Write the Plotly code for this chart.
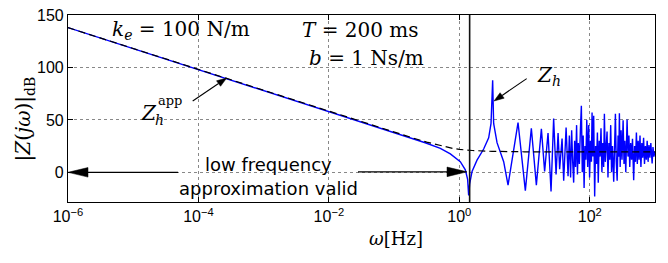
import math
import plotly.graph_objects as go

# ---------------- data ----------------
# |Z_h(j w)| in dB, frequency given as log10(omega [Hz])
zh_log_omega = [
    -6, -4, -2, -1, -0.699, -0.523, -0.291, -0.138, 0.015, 0.092, 0.127, 0.143,
    0.158, 0.195, 0.271, 0.373, 0.45, 0.486, 0.511, 0.526, 0.578, 0.68, 0.747,
    0.900, 1.012, 1.104, 1.181, 1.258, 1.308, 1.360, 1.406, 1.446, 1.483, 1.514,
    1.538, 1.575, 1.600, 1.637, 1.667,
    1.687, 1.706, 1.722, 1.738, 1.753, 1.768, 1.782, 1.798, 1.811, 1.825, 1.840,
    1.856, 1.871, 1.885, 1.899, 1.913, 1.926, 1.940, 1.954, 1.968, 1.983, 1.997,
    2.011, 2.025, 2.035, 2.048, 2.060, 2.075, 2.089, 2.103, 2.117, 2.130, 2.144,
    2.158, 2.172, 2.186, 2.199, 2.213, 2.224, 2.238, 2.252, 2.265, 2.279, 2.293,
    2.307, 2.321, 2.334, 2.348, 2.367, 2.380, 2.393, 2.406, 2.420, 2.434, 2.446,
    2.454, 2.466, 2.480, 2.494, 2.511, 2.525, 2.538, 2.552, 2.572, 2.586, 2.600,
    2.613, 2.627, 2.641, 2.655, 2.673, 2.687, 2.701, 2.715, 2.729, 2.742, 2.756,
    2.770, 2.784, 2.798, 2.811, 2.825, 2.839, 2.853, 2.867, 2.880, 2.894, 2.908,
    2.922, 2.936, 2.956, 2.969, 2.983, 3.0,
]
zh_db = [
    138, 98, 58, 38, 31.8, 28.2, 22.9, 17.6, 10.1, 2.4, -6.7, -22,
    -11.3, 0.9, 11.6, 22.2, 32.9, 46.6, 87.8, 46.6, 28.3, 10.1, -12.2,
    47.5, -17.4, 42, -12.2, 41.4, 0.9, 37.5, -18.3, 51.2, -2.1, 37.5,
    3, 32.3, -8, 42.7, -3.7,
    35, -5, 40, 10, -9.8, 30, 5, 45, -2, 28, 8,
    40, 63.4, 0, 35, -15, 25, 12, 50, 5, 45, -5,
    30, 10, 57, 15, 54, -23, 25, 8, 38, -10, 30,
    15, 42, 0, 28, 5, 55.8, 10, 35, 39, -5, 28,
    12, 45, 0, 25, -8.9, 30, 55.8, 10, -8, 35, 15,
    56.4, 5, 40, 12, 49.6, 8, 30, 0, 50.3, 15, 35,
    5, 28, 12, 32, -7.6, 25, 10, 38, 8, 30, 12,
    35, 5, 28, 14, 33, 8, 25, 12, 30, 10, 26,
    14, 28, 8.5, 24, 15, 20,
]

# low-frequency approximation Z_h^app in dB
app_log_omega = [-6, -2, -1, -0.7, -0.5, -0.3, -0.1, 0, 0.2, 0.5, 1, 3]
app_db = [138, 58, 38.2, 32.5, 28.8, 25.5, 22.8, 21.9, 20.8, 20.0, 19.6, 19.5]

# validity limit of the approximation (log10 omega)
valid_limit_log_omega = 0.158

x_tick_exps = [-6, -4, -2, 0, 2]
y_ticks = [0, 50, 100, 150]
x_range_exp = [-6, 3]
y_range = [-28.3, 150.05]

# ---------------- layout helpers ----------------
W, H = 668, 263
L, R, T, B = 68, 655, 7, 202


def px(x):
    return (x - L) / (R - L)


def py(y):
    return (B - y) / (B - T)


def dx(logw):
    return L + (logw - x_range_exp[0]) / (x_range_exp[1] - x_range_exp[0]) * (R - L)


def dy(v):
    return B - (v - y_range[0]) / (y_range[1] - y_range[0]) * (B - T)


omega = [10 ** v for v in zh_log_omega]
app_omega = [10 ** v for v in app_log_omega]
vl = 10 ** valid_limit_log_omega

fig = go.Figure()
fig.add_trace(go.Scatter(x=omega, y=zh_db, mode="lines",
                         line=dict(color="#0000ff", width=1.4), showlegend=False))
fig.add_trace(go.Scatter(x=app_omega, y=app_db, mode="lines",
                         line=dict(color="black", width=1.2, dash="7px,4px"),
                         showlegend=False))
fig.add_trace(go.Scatter(x=[vl, vl], y=y_range, mode="lines",
                         line=dict(color="#111111", width=1.6), showlegend=False))

shapes = []


def arrow(x0, y0, x1, y1, hl, hw, w=1.1):
    ddx, ddy = x1 - x0, y1 - y0
    d = math.hypot(ddx, ddy)
    ux, uy = ddx / d, ddy / d
    bx, by = x1 - ux * hl, y1 - uy * hl
    nx, ny = -uy, ux
    p1 = (bx + nx * hw, by + ny * hw)
    p2 = (bx - nx * hw, by - ny * hw)
    shapes.append(dict(type="line", xref="paper", yref="paper",
                       x0=px(x0), y0=py(y0), x1=px(bx), y1=py(by),
                       line=dict(color="black", width=w)))
    path = (f"M {px(x1)} {py(y1)} L {px(p1[0])} {py(p1[1])} "
            f"L {px(p2[0])} {py(p2[1])} Z")
    shapes.append(dict(type="path", path=path, xref="paper", yref="paper",
                       fillcolor="black", line=dict(color="black", width=0.5)))


# low frequency arrows
arrow(178, dy(0), dx(-6), dy(0), 20, 5)
arrow(358, dy(0) - 0.5, dx(0.118), dy(0) - 0.5, 20, 5)
# Z_h^app arrow
arrow(192.7, 96.7, 226.7, 72.7, 10, 3.5)
# Z_h arrow
arrow(526.7, 73.3, 494, 96.7, 10, 3.5)

serif = "DejaVu Serif"
sans = "DejaVu Sans"
tick_font = "Liberation Sans"

ann = []


def text(x, y, s, size=20, font=serif, xanchor="center", angle=0):
    ann.append(dict(x=px(x), y=py(y), xref="paper", yref="paper", text=s,
                    showarrow=False, xanchor=xanchor, yanchor="middle",
                    textangle=angle, font=dict(family=font, size=size, color="black")))


text(110, 23, "<i>k<sub>e</sub></i> = 100 N/m", size=20, xanchor="left")
text(300, 23, "<i>T</i> = 200 ms", size=20, xanchor="left")
text(307, 52, "<i>b</i> = 1 Ns/m", size=20, xanchor="left")

text(268, 163, "low frequency", size=18, font=sans)
text(268, 188, "approximation valid", size=18, font=sans)

text(148.5, 109, "<i>Z</i>", size=20)
text(170, 96, "app", size=13)
text(159, 116, "<i>h</i>", size=14)

text(549, 71, "<i>Z<sub>h</sub></i>", size=20)

text(396, 240, "<i>ω</i>[Hz]", size=18)
text(24, 116, "|<i>Z</i>(<i>jω</i>)|<sub>dB</sub>", size=20, angle=-90)

fig.update_layout(
    width=W, height=H,
    margin=dict(l=L, r=W - R, t=T, b=H - B),
    paper_bgcolor="white", plot_bgcolor="white",
    shapes=shapes, annotations=ann,
    showlegend=False,
    xaxis=dict(type="log", range=x_range_exp,
               tickvals=[10 ** e for e in x_tick_exps],
               ticktext=[f"10<sup>{'−' if e < 0 else ''}{abs(e)}</sup>" for e in x_tick_exps],
               ticks="inside", ticklen=5, tickcolor="black",
               showline=True, linecolor="black", linewidth=1.2, mirror="ticks",
               showgrid=True, gridcolor="#888888", griddash="dot", gridwidth=1,
               zeroline=False, ticklabeloverflow="allow",
               tickfont=dict(family=tick_font, size=16, color="black")),
    yaxis=dict(range=y_range, tickvals=y_ticks,
               ticks="inside", ticklen=5, tickcolor="black",
               showline=True, linecolor="black", linewidth=1.2, mirror="ticks",
               showgrid=True, gridcolor="#888888", griddash="dot", gridwidth=1,
               zeroline=False, ticklabeloverflow="allow",
               tickfont=dict(family=tick_font, size=16, color="black")),
)

fig.write_html("out.html",
               config={"displayModeBar": False},
               post_script="document.body.style.margin='0px';document.body.style.overflow='hidden';")
